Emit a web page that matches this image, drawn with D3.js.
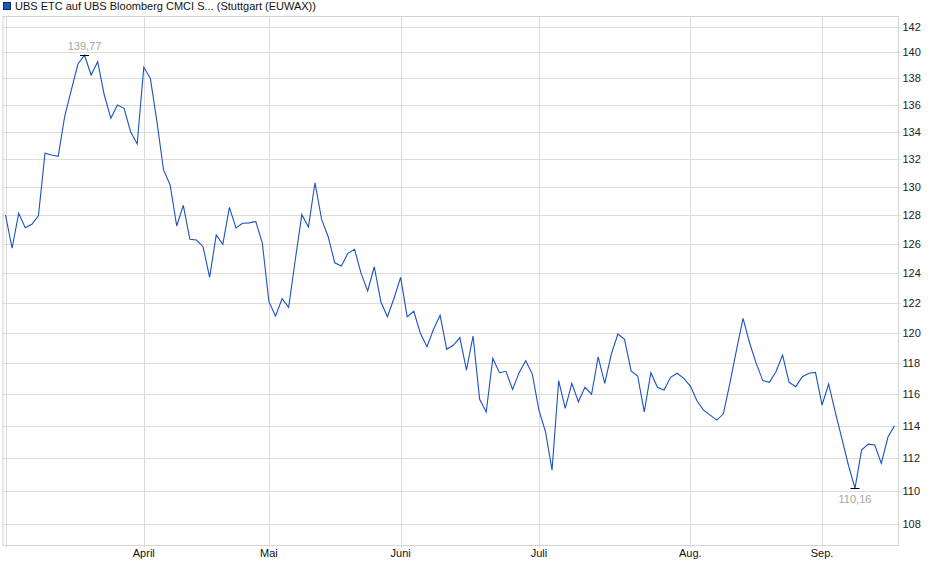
<!DOCTYPE html>
<html>
<head>
<meta charset="utf-8">
<script src="https://cdn.jsdelivr.net/npm/d3@7"></script>
<style>
  body { margin: 0; background: #fff; }
  svg text { font-family: "Liberation Sans", Arial, sans-serif; }
</style>
</head>
<body>
<script>
const w = 940;
const h = 579;

const title = "UBS ETC auf UBS Bloomberg CMCI S... (Stuttgart (EUWAX))";

// closing prices, one per trading day (March .. mid September)
const prices = [
    128.02, 125.70, 128.14, 127.13, 127.37, 127.97, 132.44, 132.31, 132.22, 135.18,
    137.13, 139.10, 139.77, 138.26, 139.28, 136.75, 135.01, 136.00, 135.75, 134.02,
    133.12, 138.85, 138.01, 134.74, 131.23, 130.15, 127.25, 128.70, 126.32, 126.27,
    125.81, 123.71, 126.62, 125.97, 128.56, 127.11, 127.44, 127.47, 127.57, 126.06,
    122.06, 121.10, 122.26, 121.68, 124.89, 128.05, 127.18, 130.31, 127.71, 126.50,
    124.70, 124.48, 125.35, 125.63, 123.98, 122.78, 124.43, 122.06, 121.06, 122.29,
    123.71, 121.06, 121.42, 119.96, 119.08, 120.22, 121.15, 118.91, 119.17, 119.68,
    117.56, 119.78, 115.68, 114.88, 118.32, 117.39, 117.48, 116.31, 117.39, 118.16,
    117.30, 115.00, 113.64, 111.27, 116.87, 115.11, 116.70, 115.53, 116.45, 116.00,
    118.42, 116.70, 118.60, 119.91, 119.56, 117.50, 117.17, 114.89, 117.39, 116.45,
    116.27, 117.09, 117.35, 117.02, 116.53, 115.59, 115.00, 114.68, 114.37, 114.75,
    116.70, 118.86, 120.95, 119.32, 117.99, 116.88, 116.77, 117.45, 118.53, 116.77,
    116.49, 117.13, 117.35, 117.41, 115.32, 116.66, 114.89, 113.23, 111.58, 110.16,
    112.50, 112.87, 112.81, 111.68, 113.29, 114.01
];

// first trading day of each month (index into prices)
const monthLabels = ["", "April", "Mai", "Juni", "Juli", "Aug.", "Sep."];
const monthStarts = [0, 21, 40, 60, 81, 104, 124];

const yTicks = d3.range(108, 143, 2);

const plot = { left: 2.5, right: 898, top: 16, bottom: 545 };

const svg = d3.select("body")
    .append("svg")
    .attr("width", w)
    .attr("height", h)
    ;

const xScale = d3.scaleLinear()
    .domain([0, prices.length - 1])
    .range([5.5, 894.5])
    ;

const yScale = d3.scaleLog()
    .domain([108, 142])
    .range([524.3, 26.5])
    ;

// horizontal grid + right axis labels
svg.append("g")
    .selectAll("line")
    .data(yTicks)
    .enter()
    .append("line")
    .attr("x1", plot.left)
    .attr("x2", plot.right + 2.5)
    .attr("y1", d => Math.round(yScale(d)) + 0.5)
    .attr("y2", d => Math.round(yScale(d)) + 0.5)
    .style("stroke", "#dcdcdc")
    ;

svg.append("g")
    .selectAll("text")
    .data(yTicks)
    .enter()
    .append("text")
    .attr("x", plot.right + 4.5)
    .attr("y", d => yScale(d) + 4)
    .style("font-size", "11px")
    .style("fill", "#222")
    .text(d => d)
    ;

// vertical month grid
svg.append("g")
    .selectAll("line")
    .data(monthStarts)
    .enter()
    .append("line")
    .attr("x1", d => Math.round(xScale(d)) + 0.5)
    .attr("x2", d => Math.round(xScale(d)) + 0.5)
    .attr("y1", plot.top)
    .attr("y2", plot.bottom + 2.5)
    .style("stroke", "#dcdcdc")
    ;

svg.append("g")
    .selectAll("text")
    .data(monthStarts)
    .enter()
    .append("text")
    .attr("x", d => xScale(d))
    .attr("y", plot.bottom + 12)
    .attr("text-anchor", "middle")
    .style("font-size", "11px")
    .style("fill", "#111")
    .text((d, i) => monthLabels[i])
    ;

// frame
svg.append("rect")
    .attr("x", plot.left + 0.5)
    .attr("y", plot.top + 0.5)
    .attr("width", plot.right - plot.left)
    .attr("height", plot.bottom - plot.top)
    .style("fill", "none")
    .style("stroke", "#d4d4d4")
    ;

// price line
const line = d3.line()
    .x((d, i) => xScale(i))
    .y(d => yScale(d))
    ;

svg.append("path")
    .datum(prices)
    .attr("d", line)
    .style("fill", "none")
    .style("stroke", "#1a52c2")
    .style("stroke-width", 1.1)
    ;

// high / low markers
const fmt = v => d3.format(".2f")(v).replace(".", ",");
const hiIdx = d3.maxIndex(prices);
const loIdx = d3.minIndex(prices);
const marks = [
    { i: hiIdx, dy: -5 },
    { i: loIdx, dy: 15 }
];

svg.append("g")
    .selectAll("line")
    .data(marks)
    .enter()
    .append("line")
    .attr("x1", d => xScale(d.i) - 4.5)
    .attr("x2", d => xScale(d.i) + 4.5)
    .attr("y1", d => Math.round(yScale(prices[d.i])) + 0.5)
    .attr("y2", d => Math.round(yScale(prices[d.i])) + 0.5)
    .style("stroke", "#000")
    ;

svg.append("g")
    .selectAll("text")
    .data(marks)
    .enter()
    .append("text")
    .attr("x", d => xScale(d.i))
    .attr("y", d => yScale(prices[d.i]) + d.dy)
    .attr("text-anchor", "middle")
    .style("font-size", "11px")
    .style("fill", "#a5a5a5")
    .text(d => fmt(prices[d.i]))
    ;

// legend
svg.append("rect")
    .attr("x", 3.5)
    .attr("y", 2.5)
    .attr("width", 7)
    .attr("height", 7)
    .style("fill", "#1f55c4")
    .style("stroke", "#0d2a66")
    ;

svg.append("text")
    .attr("x", 15)
    .attr("y", 10)
    .style("font-size", "11px")
    .style("fill", "#111")
    .text(title)
    ;
</script>
</body>
</html>
